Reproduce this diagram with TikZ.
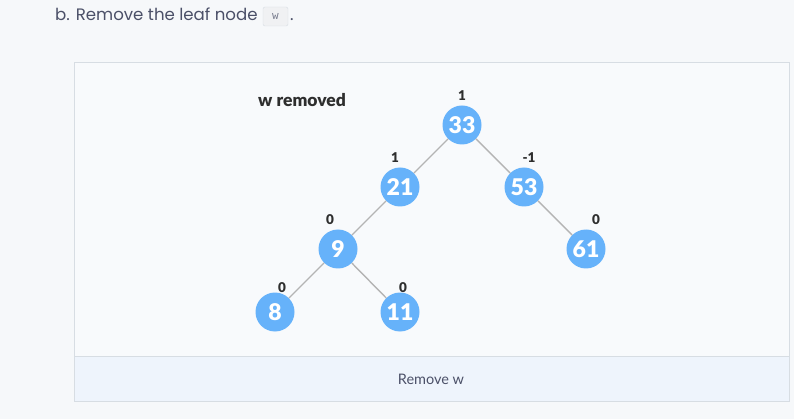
\documentclass[tikz,border=0pt]{standalone}
\usepackage{fontspec}
\setmainfont{Lato}
\newfontfamily\popfont{Poppins}
\newfontfamily\latoblack{Lato Black}
\newfontfamily\codefont{DejaVu Sans Mono}
\begin{document}
\begin{tikzpicture}[x=1pt,y=-1pt,
  tnode/.style={circle,fill=nodeblue,minimum size=39pt,inner sep=0pt,text=white,font=\latoblack\fontsize{23}{23}\selectfont},
  bal/.style={font=\latoblack\fontsize{13.5}{13.5}\selectfont,text=baltext,inner sep=0pt},
  edge/.style={draw=edgegray,line width=1.4pt}]
\definecolor{nodeblue}{HTML}{66B2FA}
\definecolor{edgegray}{HTML}{B4B4B4}
\definecolor{baltext}{HTML}{2E2E2E}
\definecolor{pagebg}{HTML}{F6F8FA}
\definecolor{boxbg}{HTML}{F8FAFC}
\definecolor{boxborder}{HTML}{D7DDE3}
\definecolor{btnbg}{HTML}{EEF4FC}
\definecolor{headtext}{HTML}{4B5068}
\definecolor{codebg}{HTML}{F0F1F3}
\fill[pagebg] (0,0) rectangle (794,419);
\useasboundingbox (0,0) rectangle (794,419);
% header
\node[anchor=base west,inner sep=0pt,text=headtext,font=\popfont\fontsize{16.6}{16.6}\selectfont] (head) at (55,21) {b. Remove the leaf node};
\node[draw=boxborder,fill=codebg,rounded corners=2pt,minimum width=25pt,minimum height=19pt,inner sep=0pt,text=headtext!75,font=\codefont\fontsize{11}{11}\selectfont] (code) at (275.5,16.5) {w};
\node[anchor=base west,inner sep=0pt,text=headtext,font=\popfont\fontsize{16.6}{16.6}\selectfont] (dot) at (290,21) {.};
% box
\draw[boxborder,fill=boxbg,line width=0.8pt] (74.5,62.5) rectangle (789.5,401.5);
\fill[btnbg] (75,356.5) rectangle (789,401);
\draw[boxborder,line width=0.8pt] (74.5,356.5) -- (789.5,356.5);
\node[text=headtext,font=\fontsize{14.5}{14.5}\selectfont] (btn) at (431,379) {Remove w};
\node[anchor=west,inner sep=0pt,text=baltext,font=\latoblack\fontsize{17.5}{17.5}\selectfont] (title) at (258,100) {w removed};
% tree
\node[tnode] (n33) at (462,125) {33};
\node[tnode] (n21) at (400,187) {21};
\node[tnode] (n53) at (524,187) {53};
\node[tnode] (n9) at (338,249) {9};
\node[tnode] (n61) at (586,249) {61};
\node[tnode] (n8) at (275,312) {8};
\node[tnode] (n11) at (400,312) {11};
\draw[edge] (n33) -- (n21);
\draw[edge] (n33) -- (n53);
\draw[edge] (n21) -- (n9);
\draw[edge] (n53) -- (n61);
\draw[edge] (n9) -- (n8);
\draw[edge] (n9) -- (n11);
% balance factors
\node[bal] (b33) at (462,96) {1};
\node[bal] (b21) at (395,158) {1};
\node[bal] (b53) at (529,158) {-1};
\node[bal] (b9) at (330,220) {0};
\node[bal] (b61) at (596,220) {0};
\node[bal] (b8) at (282,288) {0};
\node[bal] (b11) at (403,288) {0};
\end{tikzpicture}
\end{document}
